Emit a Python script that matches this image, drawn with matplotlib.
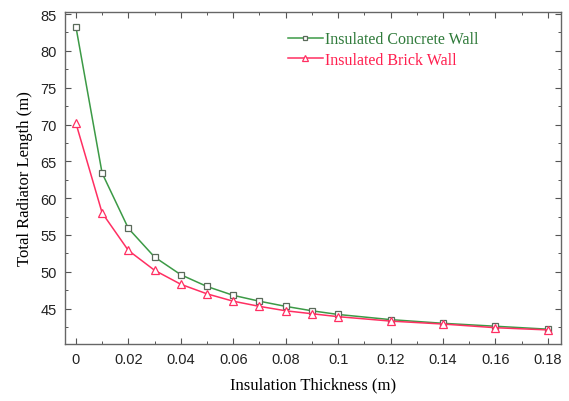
import matplotlib
matplotlib.use("Agg")
import matplotlib.pyplot as plt
from matplotlib.ticker import MultipleLocator

thickness = [0.0, 0.01, 0.02, 0.03, 0.04, 0.05, 0.06, 0.07, 0.08, 0.09, 0.10, 0.12, 0.14, 0.16, 0.18]
concrete = [83.3, 63.4, 55.9, 52.0, 49.6, 48.0, 46.8, 46.0, 45.3, 44.7, 44.2, 43.5, 43.0, 42.6, 42.2]
brick = [70.2, 58.0, 52.9, 50.2, 48.3, 47.0, 46.0, 45.3, 44.7, 44.3, 43.9, 43.3, 42.9, 42.4, 42.1]
xticks = [0, 0.02, 0.04, 0.06, 0.08, 0.1, 0.12, 0.14, 0.16, 0.18]
xticklabels = ["0", "0.02", "0.04", "0.06", "0.08", "0.1", "0.12", "0.14", "0.16", "0.18"]
yticks = [45, 50, 55, 60, 65, 70, 75, 80, 85]

fig = plt.figure(figsize=(5.69, 4.02), dpi=100)
ax = fig.add_axes([0.114, 0.142, 0.872, 0.826])

green = "#3c9a46"
red = "#ff2f62"
ax.plot(thickness, concrete, color=green, lw=1.1, marker="s", ms=5,
        mfc="white", mec="#5a6a5a", mew=0.9, label="Insulated Concrete Wall")
ax.plot(thickness, brick, color=red, lw=1.1, marker="^", ms=6,
        mfc="white", mec=red, mew=0.9, label="Insulated Brick Wall")

ax.set_xlim(-0.0042, 0.185)
ax.set_ylim(40.2, 85.3)
ax.set_xticks(xticks)
ax.set_xticklabels(xticklabels, family="Liberation Sans", fontsize=10.5, color="#222222")
ax.set_yticks(yticks)
ax.set_yticklabels([str(v) for v in yticks], family="Liberation Sans", fontsize=10.5, color="#222222")
ax.xaxis.set_minor_locator(MultipleLocator(0.01))
ax.yaxis.set_minor_locator(MultipleLocator(2.5))
ax.tick_params(which="both", direction="in", top=True, right=True, color="#555555")
ax.tick_params(which="major", length=4, width=0.8, pad=6)
ax.tick_params(which="minor", length=2, width=0.7)
for s in ax.spines.values():
    s.set_color("#666666")
    s.set_linewidth(1.0)

ax.set_xlabel("Insulation Thickness (m)", family="Liberation Serif", fontsize=12, labelpad=7)
ax.set_ylabel("Total Radiator Length (m)", family="Liberation Serif", fontsize=12, labelpad=5)

leg = ax.legend(loc="upper left", bbox_to_anchor=(0.42, 0.985), frameon=False,
                prop={"family": "Liberation Serif", "size": 11.5},
                handlelength=2.2, handletextpad=0.15, labelspacing=0.3, markerscale=0.7)
for txt, c in zip(leg.get_texts(), ["#2f7a3a", "#ff1f4f"]):
    txt.set_color(c)

fig.savefig("out.png", dpi=100)
